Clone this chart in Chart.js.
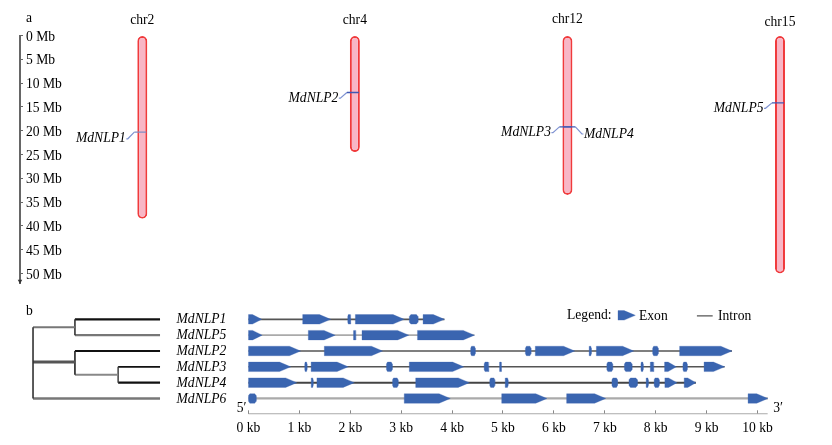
<!DOCTYPE html>
<html>
<head>
<meta charset="utf-8">
<title>MdNLP</title>
<script src="https://cdn.jsdelivr.net/npm/chart.js@4"></script>
<style>
  html, body { margin: 0; padding: 0; background: #fff; }
  #wrap { position: relative; width: 832px; height: 445px; overflow: hidden; }
  canvas { position: absolute; left: 0; display: block; }
  #mapChart { top: 0; }
  #geneChart { top: 290px; }
</style>
</head>
<body>
<div id="wrap">
  <canvas id="mapChart" width="832" height="290"></canvas>
  <canvas id="geneChart" width="832" height="155"></canvas>
</div>
<script>
// ── 데이터: a 염색체 ──────────────────────────────
const chrNames = ["chr2", "chr4", "chr12", "chr15"];
const chrLengths = [38.5, 24.5, 33.5, 50];
const mbTicks = [0, 5, 10, 15, 20, 25, 30, 35, 40, 45, 50];
const mapGenes = ["MdNLP1", "MdNLP2", "MdNLP3", "MdNLP4", "MdNLP5"];
const mapGeneChr = [0, 1, 2, 2, 3];
const mapGeneMb = [20.3, 11.96, 19.2, 19.2, 14.15];
const mapLabelMb = [21.7, 13.15, 20.4, 20.7, 15.3];
const mapGeneSide = [-1, -1, -1, 1, -1];

// ── 데이터: b 유전자 구조 (kb) ────────────────────
const geneNames = ["MdNLP1", "MdNLP5", "MdNLP2", "MdNLP3", "MdNLP4", "MdNLP6"];
const kbTicks = [0, 1, 2, 3, 4, 5, 6, 7, 8, 9, 10];
const exonsNLP1 = [[0, .26], [1.065, 1.615], [1.95, 2.01], [2.1, 3.06], [3.16, 3.33], [3.43, 3.85]];
const exonsNLP5 = [[0, .27], [1.175, 1.705], [2.06, 2.11], [2.23, 3.15], [3.32, 4.44]];
const exonsNLP2 = [[0, 1.025], [1.49, 2.635], [4.365, 4.455], [5.44, 5.55], [5.635, 6.41], [6.69, 6.735], [6.835, 7.57], [7.94, 8.05], [8.47, 9.5]];
const exonsNLP3 = [[0, .83], [1.105, 1.15], [1.23, 1.96], [2.71, 2.825], [3.16, 4.23], [4.63, 4.725], [4.93, 4.97], [7.04, 7.155], [7.385, 7.535], [7.71, 7.755], [7.89, 7.965], [8.175, 8.405], [8.535, 8.62], [8.95, 9.355]];
const exonsNLP4 = [[0, .95], [1.23, 1.27], [1.345, 2.08], [2.83, 2.94], [3.285, 4.34], [4.74, 4.84], [5.04, 5.1], [7.14, 7.25], [7.475, 7.64], [7.81, 7.855], [7.97, 8.07], [8.18, 8.42], [8.56, 8.79]];
const exonsNLP6 = [[0, .15], [3.06, 3.965], [4.975, 5.865], [6.25, 7.02], [9.815, 10.205]];
const geneExons = [exonsNLP1, exonsNLP5, exonsNLP2, exonsNLP3, exonsNLP4, exonsNLP6];

// 계통수 가지: 깊이(depth) / 행(row)
const branchDepths = [[0, 0], [0, .33], [.33, .33], [.33, 1], [.33, 1], [0, .33], [.33, .33], [.33, 1], [.33, .67], [.67, .67], [.67, 1], [.67, 1], [0, 1]];
const branchRows = [[.5, 5], [.5, .5], [0, 1], [0, 0], [1, 1], [2.7, 2.7], [2, 3.5], [2, 2], [3.5, 3.5], [3, 4], [3, 3], [4, 4], [5, 5]];

// ── 스타일 ────────────────────────────────────────
const SERIF = '"Liberation Serif", "Times New Roman", serif';
const FONT_PX = 13.6;
const EXON = "#3a65b0";
const intronColors = ["#555555", "#aaaaaa", "#555555", "#555555", "#444444", "#aaaaaa"];
const intronWidths = [1.6, 1.6, 1.6, 1.4, 2, 2.2];
const branchColors = ["#333", "#777", "#333", "#111", "#777", "#555", "#222", "#111", "#888", "#333", "#111", "#111", "#777"];
const branchWidths = [1.6, 2.2, 1.6, 2.4, 2.2, 3, 1.6, 1.8, 1.8, 1.4, 1.8, 2.4, 2.6];
const chrTitleGapMb = [3.1, 3.1, 3.4, 2.7];

function text(ctx, str, x, y, align, italic) {
  ctx.save();
  ctx.fillStyle = "#000";
  ctx.font = `${italic ? "italic " : ""}${FONT_PX}px ${SERIF}`;
  ctx.textAlign = align || "left";
  ctx.textBaseline = "middle";
  ctx.fillText(str, x, y);
  ctx.restore();
}

// ── a: 염색체 위치도 ──────────────────────────────
const CHR_PX = 212.56;   // 염색체 간격
function leaderPoints(i) {
  const c = mapGeneChr[i], side = mapGeneSide[i];
  return [
    { x: c - side * 4 / CHR_PX, y: mapGeneMb[i] },
    { x: c + side * 8 / CHR_PX, y: mapGeneMb[i] },
    { x: c + side * 14.5 / CHR_PX, y: mapLabelMb[i] },
    { x: c + side * 16 / CHR_PX, y: mapLabelMb[i] },
  ];
}

const mapDatasets = [{
  type: "bar",
  data: chrLengths.map((len, i) => ({ x: i, y: [0, len] })),
  backgroundColor: "#f8b6c6",
  borderColor: "#f03a3c",
  borderWidth: 2,
  borderRadius: 5,
  borderSkipped: false,
  barThickness: 10,
  inflateAmount: 0,
  order: 2,
}];
mapGenes.forEach((g, i) => {
  const pts = leaderPoints(i);
  mapDatasets.push({
    type: "line",
    data: pts.slice(0, 2),
    borderColor: i === 0 ? "#7f8cc4" : "#3f58b4",
    borderWidth: 1.4,
    pointRadius: 0,
    order: 0,
  });
  mapDatasets.push({
    type: "line",
    data: pts.slice(1),
    borderColor: "#7f93d2",
    borderWidth: 1.2,
    pointRadius: 0,
    order: 1,
  });
});
// 축 끝 화살표
mapDatasets.push({
  type: "line",
  data: [{ x: -0.5754, y: 51.6 }],
  pointStyle: "triangle",
  pointRotation: 180,
  pointRadius: 2.6,
  pointBackgroundColor: "#333",
  pointBorderWidth: 0,
  showLine: false,
  clip: false,
  order: 0,
});

const mapLabels = {
  id: "mapLabels",
  afterDatasetsDraw(chart) {
    const { ctx, scales: { x, y } } = chart;
    text(ctx, "a", 26, 18);
    chrNames.forEach((n, i) => {
      text(ctx, n, x.getPixelForValue(i), y.getPixelForValue(-chrTitleGapMb[i]), "center");
    });
    mapGenes.forEach((g, i) => {
      const p = leaderPoints(i)[3];
      const side = mapGeneSide[i];
      text(ctx, g, x.getPixelForValue(p.x) + side * 0.5, y.getPixelForValue(mapLabelMb[i]), side < 0 ? "right" : "left", true);
    });
  },
};

new Chart(document.getElementById("mapChart"), {
  type: "bar",
  data: { datasets: mapDatasets },
  plugins: [mapLabels],
  options: {
    responsive: false,
    animation: false,
    devicePixelRatio: 1,
    layout: { autoPadding: false, padding: { left: 20, right: 0, top: 35.5, bottom: 7 } },
    plugins: { legend: { display: false }, tooltip: { enabled: false } },
    scales: {
      x: { type: "linear", display: false, offset: false, min: -0.5754, max: 3.2447 },
      y: {
        type: "linear",
        reverse: true,
        min: 0,
        max: 52,
        afterBuildTicks: s => { s.ticks = mbTicks.map(v => ({ value: v })); },
        // 미러 라벨이 하단 여백을 잡아먹지 않도록
        afterFit: s => { s.width = 0; s.paddingTop = 0; s.paddingBottom = 0; },
        border: { display: true, color: "#666", width: 2 },
        grid: { drawOnChartArea: false, tickLength: -3, tickColor: "#666", tickWidth: 1 },
        ticks: {
          mirror: true,
          padding: 6,
          autoSkip: false,
          labelOffset: 1.5,
          color: "#000",
          font: { family: SERIF, size: FONT_PX },
          callback: v => `${v} Mb`,
        },
      },
    },
  },
});

// ── b: 계통수 + 유전자 구조 ───────────────────────
const HALF = 0.3;
function exonShape(s, e, row, h) {
  const len = e - s;
  if (len >= 0.2) {
    const t = Math.min(0.22, len * 0.7);
    return [[s, row - h], [e - t, row - h], [e, row], [e - t, row + h], [s, row + h], [s, row - h]];
  }
  const c = len * 0.18;
  return [[s + c, row - h], [e - c, row - h], [e, row - h * 0.6], [e, row + h * 0.6], [e - c, row + h], [s + c, row + h], [s, row + h * 0.6], [s, row - h * 0.6], [s + c, row - h]];
}
function exonDataset(s, e, row, h) {
  return {
    data: exonShape(s, e, row, h).map(p => ({ x: p[0], y: p[1] })),
    xAxisID: "x",
    fill: "shape",
    backgroundColor: EXON,
    borderColor: "rgba(58,101,176,0.3)",
    borderWidth: 1,
    pointRadius: 0,
    order: 0,
  };
}

const geneDatasets = [];
// 눈금 축선
geneDatasets.push({
  data: [{ x: 0, y: 6 }, { x: 10.2, y: 6 }],
  xAxisID: "x",
  borderColor: "#aaaaaa",
  borderWidth: 2,
  pointRadius: 0,
  order: 2,
});
geneExons.forEach((exons, row) => {
  geneDatasets.push({
    data: [{ x: exons[0][0], y: row }, { x: exons[exons.length - 1][1], y: row }],
    xAxisID: "x",
    borderColor: intronColors[row],
    borderWidth: intronWidths[row],
    pointRadius: 0,
    order: 1,
  });
  exons.forEach(ex => geneDatasets.push(exonDataset(ex[0], ex[1], row, HALF)));
});
branchDepths.forEach((d, i) => {
  geneDatasets.push({
    data: [{ x: d[0], y: branchRows[i][0] }, { x: d[1], y: branchRows[i][1] }],
    xAxisID: "xTree",
    borderColor: branchColors[i],
    borderWidth: branchWidths[i],
    borderCapStyle: "butt",
    pointRadius: 0,
    order: i === 0 ? 0 : 1,
  });
});
// 범례 기호
geneDatasets.push(exonDataset(7.26, 7.6, -0.25, 0.3));
geneDatasets.push({
  data: [{ x: 8.81, y: -0.22 }, { x: 9.12, y: -0.22 }],
  xAxisID: "x",
  borderColor: "#555",
  borderWidth: 1.2,
  pointRadius: 0,
  order: 1,
});

const geneLabels = {
  id: "geneLabels",
  afterDatasetsDraw(chart) {
    const { ctx, scales: { x, xTree, y } } = chart;
    text(ctx, "b", 26, 21.5);
    geneNames.forEach((g, row) => {
      text(ctx, g, xTree.getPixelForValue(1.13), y.getPixelForValue(row) + 0.5, "left", true);
    });
    text(ctx, "5\u2032", x.getPixelForValue(-0.23), y.getPixelForValue(5.6), "left");
    text(ctx, "3\u2032", x.getPixelForValue(10.31), y.getPixelForValue(5.6), "left");
    text(ctx, "Legend:", 567, 25);
    text(ctx, "Exon", 639, 26);
    text(ctx, "Intron", 718, 26);
  },
};

new Chart(document.getElementById("geneChart"), {
  type: "line",
  data: { datasets: geneDatasets },
  plugins: [geneLabels],
  options: {
    responsive: false,
    animation: false,
    devicePixelRatio: 1,
    layout: { autoPadding: false, padding: { left: 0, right: 0, top: 13.5, bottom: 0 } },
    plugins: { legend: { display: false }, tooltip: { enabled: false } },
    scales: {
      x: {
        type: "linear",
        position: "bottom",
        min: -4.882,
        max: 11.464,
        afterBuildTicks: s => { s.ticks = kbTicks.map(v => ({ value: v })); },
        afterFit: s => { s.height = 30.7; },
        border: { display: false },
        grid: { drawOnChartArea: false, tickLength: -4, tickColor: "#888", tickWidth: 1 },
        ticks: {
          autoSkip: false,
          maxRotation: 0,
          padding: 10,
          color: "#000",
          font: { family: SERIF, size: FONT_PX },
          callback: v => `${v} kb`,
        },
      },
      xTree: { type: "linear", display: false, min: -0.26, max: 6.291 },
      y: { type: "linear", display: false, reverse: true, min: -1, max: 6 },
    },
  },
});
</script>
</body>
</html>
